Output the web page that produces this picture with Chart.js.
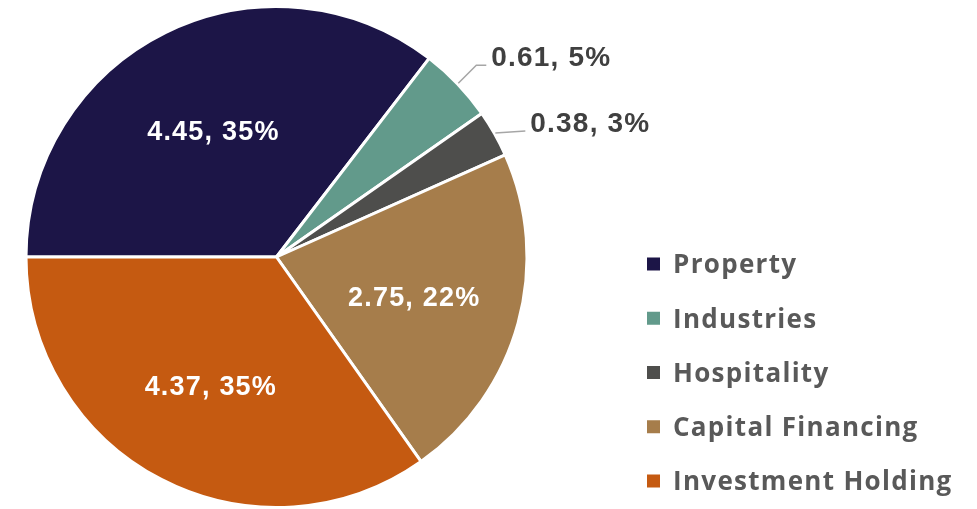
<!DOCTYPE html>
<html>
<head>
<meta charset="utf-8">
<script src="https://cdn.jsdelivr.net/npm/chart.js@4.4.1/dist/chart.umd.min.js"></script>
<style>
  html, body { margin: 0; padding: 0; background: #ffffff; }
  canvas { display: block; }
</style>
</head>
<body>
<canvas id="segmentChart" width="977" height="509"></canvas>
<script>
// Dữ liệu
const segments = ['Property', 'Industries', 'Hospitality', 'Capital Financing', 'Investment Holding']
const values = [4.45, 0.61, 0.38, 2.75, 4.37]
const colors = ['#1c1547', '#629a8b', '#4e4e4c', '#a67d4b', '#c55a11']

// nhãn nằm ngoài cho lát nhỏ: dịch đường dẫn so với mép lát
const callout = {
    1: { dx: 18, dy: -18, run: 10 },
    2: { dx: 30, dy: -2, run: 0 }
}

const total = values.reduce((a, b) => a + b, 0)

// Vẽ nhãn giá trị + phần trăm
const sliceLabels = {
    id: 'sliceLabels',
    afterDatasetsDraw(chart) {
        const ctx = chart.ctx
        const meta = chart.getDatasetMeta(0)
        meta.data.forEach((arc, i) => {
            const { x, y, startAngle, endAngle, outerRadius } =
                arc.getProps(['x', 'y', 'startAngle', 'endAngle', 'outerRadius'], true)
            const mid = (startAngle + endAngle) / 2
            const share = values[i] / total
            const text = values[i].toFixed(2) + ', ' + Math.round(share * 100) + '%'
            ctx.save()
            if (!callout[i]) {
                ctx.font = 'bold 27px "Liberation Sans", Arial, sans-serif'
                ctx.letterSpacing = '1.2px'
                ctx.fillStyle = '#ffffff'
                ctx.textAlign = 'center'
                ctx.textBaseline = 'middle'
                ctx.fillText(text, x + Math.cos(mid) * outerRadius * 0.57, y + Math.sin(mid) * outerRadius * 0.57 + 4)
            } else {
                const c = callout[i]
                const sx = x + Math.cos(mid) * (outerRadius + 1)
                const sy = y + Math.sin(mid) * (outerRadius + 1)
                const ex = sx + c.dx
                const ey = sy + c.dy
                ctx.strokeStyle = '#a6a6a6'
                ctx.lineWidth = 1.5
                ctx.beginPath()
                ctx.moveTo(sx, sy)
                ctx.lineTo(ex, ey)
                ctx.lineTo(ex + c.run, ey)
                ctx.stroke()
                ctx.font = 'bold 28px "Liberation Sans", Arial, sans-serif'
                ctx.letterSpacing = '1.2px'
                ctx.fillStyle = '#404040'
                ctx.textAlign = 'left'
                ctx.textBaseline = 'alphabetic'
                ctx.fillText(text, ex + c.run + 5, ey + 1)
            }
            ctx.restore()
        })
    }
}

// Chú thích bên phải
const sideLegend = {
    id: 'sideLegend',
    afterDraw(chart) {
        const ctx = chart.ctx
        const labels = chart.data.labels
        const bg = chart.data.datasets[0].backgroundColor
        ctx.save()
        ctx.font = 'bold 26px "Open Sans", sans-serif'
        ctx.letterSpacing = '1.3px'
        ctx.textBaseline = 'middle'
        ctx.textAlign = 'left'
        labels.forEach((label, i) => {
            const cy = 264 + i * 54.25
            ctx.fillStyle = bg[i]
            ctx.fillRect(647, cy - 6.5, 13, 13)
            ctx.fillStyle = '#595959'
            ctx.fillText(label, 673, cy + 2)
        })
        ctx.restore()
    }
}

new Chart(document.getElementById('segmentChart'), {
    type: 'pie',
    data: {
        labels: segments,
        datasets: [{
            data: values,
            backgroundColor: colors,
            borderColor: '#ffffff',
            borderWidth: 3,
            hoverOffset: 0
        }]
    },
    options: {
        responsive: false,
        animation: false,
        rotation: -90,
        layout: { padding: { left: 24, right: 448, top: 5, bottom: 0 } },
        plugins: {
            legend: { display: false },
            tooltip: { enabled: false }
        }
    },
    plugins: [sliceLabels, sideLegend]
})
</script>
</body>
</html>
